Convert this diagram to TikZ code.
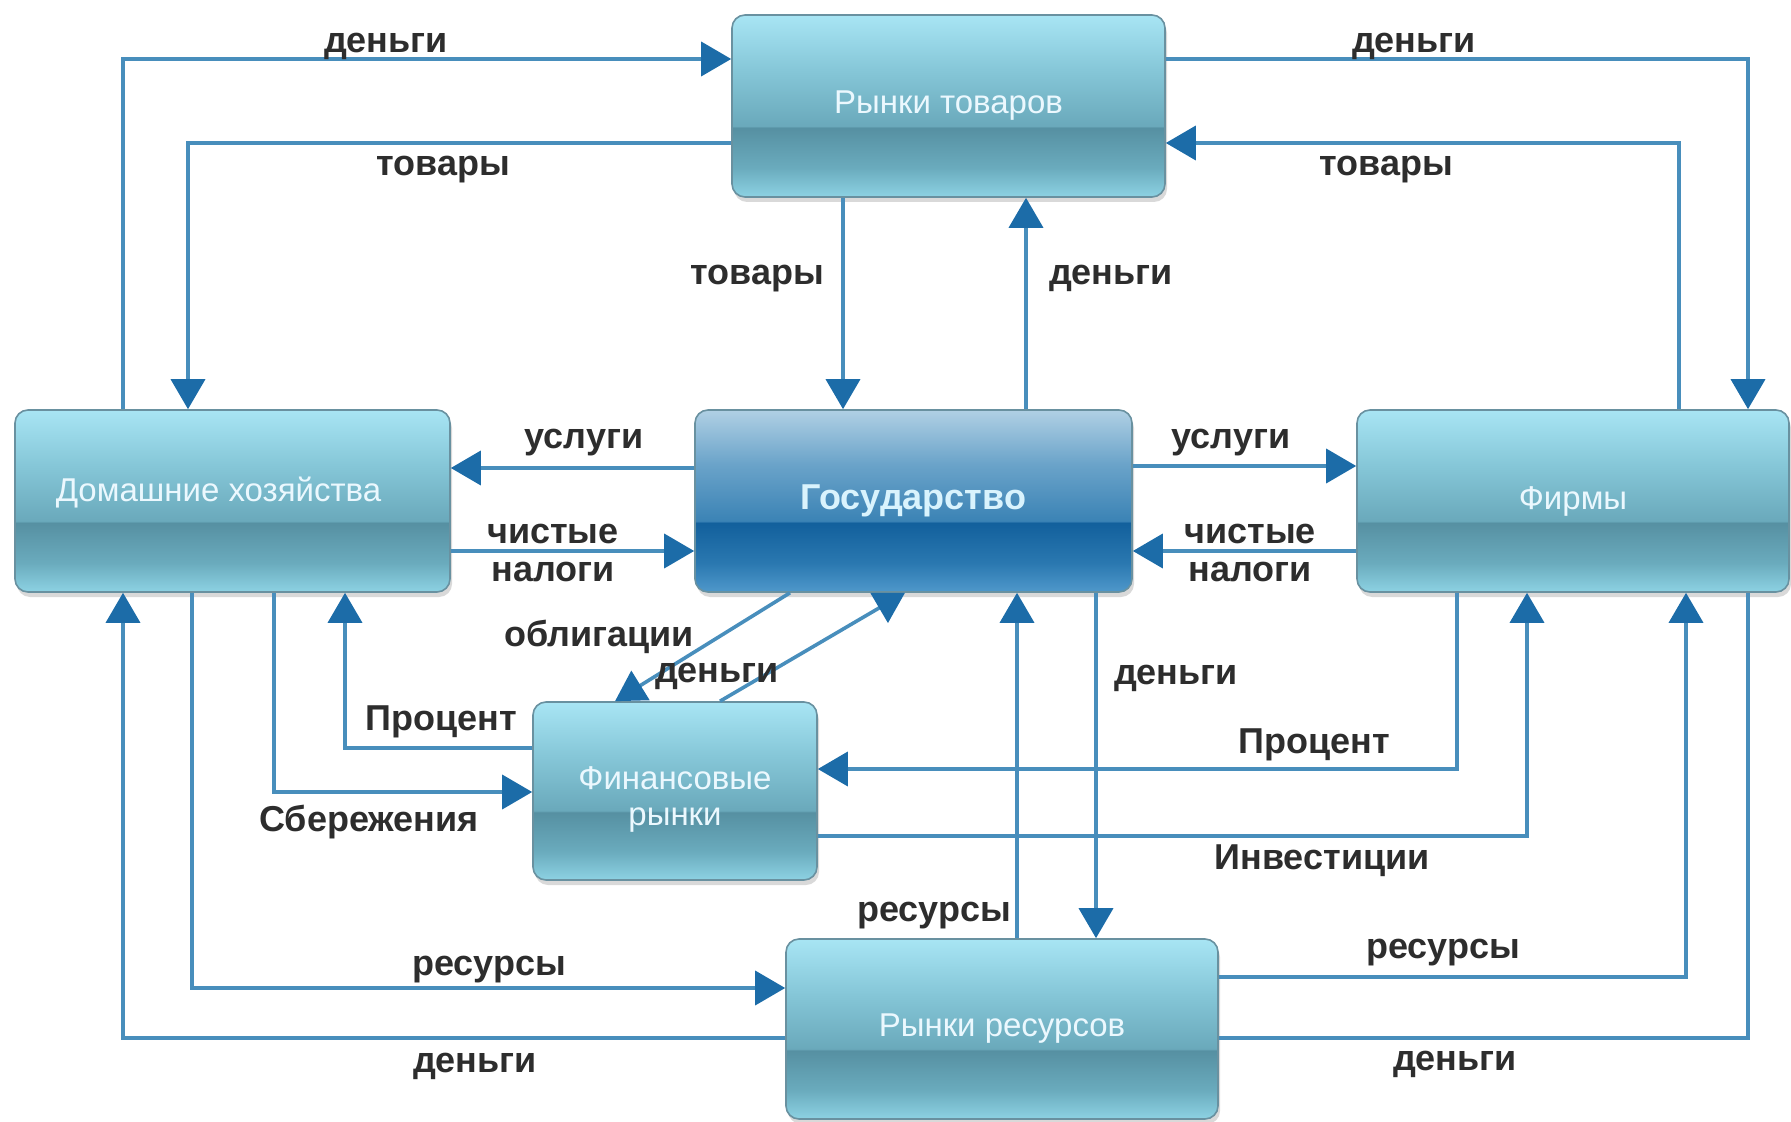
\documentclass[tikz,border=0pt]{standalone}
\usepackage{fontspec}
\setmainfont{Liberation Sans}
\usetikzlibrary{arrows.meta,shadows}
\definecolor{flowblue}{RGB}{72,142,188}
\definecolor{tipblue}{RGB}{28,108,168}
\definecolor{lbltext}{RGB}{45,45,45}
\definecolor{boxedge}{RGB}{105,145,160}
\definecolor{mkt1}{RGB}{141,210,227}
\definecolor{mkt2}{RGB}{106,171,189}
\definecolor{mkt3}{RGB}{86,144,162}
\definecolor{mkt4}{RGB}{106,169,187}
\definecolor{mkt5}{RGB}{134,199,216}
\definecolor{mkt6}{RGB}{168,229,244}
\definecolor{gov1}{RGB}{79,152,203}
\definecolor{gov2}{RGB}{42,120,176}
\definecolor{gov3}{RGB}{18,96,156}
\definecolor{gov4}{RGB}{59,131,181}
\definecolor{gov5}{RGB}{106,163,201}
\definecolor{gov6}{RGB}{176,208,228}
\pgfdeclareverticalshading{mktshade}{100bp}{color(0bp)=(mkt1); color(25bp)=(mkt1); color(33bp)=(mkt2); color(44bp)=(mkt3); color(44.5bp)=(mkt4); color(60bp)=(mkt5); color(75bp)=(mkt6); color(100bp)=(mkt6)}
\pgfdeclareverticalshading{govshade}{100bp}{color(0bp)=(gov1); color(25bp)=(gov1); color(33bp)=(gov2); color(44bp)=(gov3); color(44.5bp)=(gov4); color(60bp)=(gov5); color(75bp)=(gov6); color(100bp)=(gov6)}
\tikzset{
>={Triangle[width=17pt,length=15pt,color=tipblue]},
	mktbox/.style={
		rectangle,
		rounded corners=6.5pt,
		draw=boxedge, line width=0.8pt,
		shading=mktshade,
		drop shadow={shadow xshift=1pt, shadow yshift=-2.5pt, opacity=0.3},
		text=white!92!cyan,
		font=\fontsize{16.5}{18}\selectfont,
		inner sep=0pt,
		align=center},
	govbox/.style={
		mktbox,
		shading=govshade,
		text=white!85!cyan,
		font=\bfseries\fontsize{18}{20}\selectfont},
	link/.style={draw=flowblue, line width=1.8pt},
	flow/.style={link, ->},
	lbl/.style={
		text=lbltext,
		font=\bfseries\fontsize{18}{19}\selectfont,
		inner sep=0pt,
		yshift=-3.2pt,
		align=center}
}
\begin{document}
\begin{tikzpicture}[x=0.5pt, y=-0.5pt]
\useasboundingbox (0,0) rectangle (1791,1122);
\node[mktbox, minimum width=216.5pt, minimum height=91pt] (rt) at (948.5,106) {Рынки товаров};
\node[govbox, minimum width=218.5pt, minimum height=91pt] (gov) at (913.5,501) {Государство};
\node[mktbox, minimum width=217.5pt, minimum height=91pt] (hh) at (232.5,501) {Домашние хозяйства\rule[-12pt]{0pt}{1pt}\kern14pt};
\node[mktbox, minimum width=216pt, minimum height=91pt] (firms) at (1573,501) {Фирмы};
\node[mktbox, minimum width=142pt, minimum height=89pt] (fin) at (675,791) {\rule{0pt}{20pt}Финансовые\\рынки};
\node[mktbox, minimum width=216pt, minimum height=90pt] (rr) at (1002,1029) {Рынки ресурсов};
\draw[flow] (hh.north -| 123,0) |- (rt.west |- 0,59);
\draw[flow] (rt.west |- 0,143) -| (hh.north -| 188,0);
\draw[flow] (rt.east |- 0,59) -| (firms.north -| 1748,0);
\draw[flow] (firms.north -| 1679,0) |- (rt.east |- 0,143);
\draw[flow] (rt.south -| 843,0) -- (gov.north -| 843,0);
\draw[flow] (gov.north -| 1026,0) -- (rt.south -| 1026,0);
\draw[flow] (gov.west |- 0,468) -- (hh.east |- 0,468);
\draw[flow] (hh.east |- 0,551) -- (gov.west |- 0,551);
\draw[flow] (gov.east |- 0,466) -- (firms.west |- 0,466);
\draw[flow] (firms.west |- 0,551) -- (gov.east |- 0,551);
\draw[flow] (gov.south -| 790,0) -- (fin.north -| 615,0);
\draw[flow] (fin.north -| 720,0) -- (gov.south -| 905,0);
\draw[flow] (fin.west |- 0,748) -| (hh.south -| 345,0);
\draw[flow] (hh.south -| 274,0) |- (fin.west |- 0,792);
\draw[flow] (firms.south -| 1457,0) |- (fin.east |- 0,769);
\draw[flow] (fin.east |- 0,836) -| (firms.south -| 1527,0);
\draw[flow] (gov.south -| 1096,0) -- (rr.north -| 1096,0);
\draw[flow] (rr.north -| 1017,0) -- (gov.south -| 1017,0);
\draw[flow] (hh.south -| 192,0) |- (rr.west |- 0,988);
\draw[flow] (rr.west |- 0,1038) -| (hh.south -| 123,0);
\draw[flow] (rr.east |- 0,977) -| (firms.south -| 1686,0);
\draw[link] (firms.south -| 1748,0) |- (rr.east |- 0,1038);
\node[lbl] (l1) at (386,40) {деньги};
\node[lbl] (l2) at (443,163) {товары};
\node[lbl] (l3) at (1414,40) {деньги};
\node[lbl] (l4) at (1386,163) {товары};
\node[lbl] (l5) at (757,272) {товары};
\node[lbl] (l6) at (1111,272) {деньги};
\node[lbl] (l7) at (584,436) {услуги};
\node[lbl] (l8) at (553,547) {чистые\\налоги};
\node[lbl] (l9) at (1231,436) {услуги};
\node[lbl] (l10) at (1250,547) {чистые\\налоги};
\node[lbl] (l11) at (599,630) {облигации};
\node[lbl] (l12) at (717,670) {деньги};
\node[lbl] (l13) at (441,715) {Процент};
\node[lbl] (l14) at (369,816) {Сбережения};
\node[lbl] (l15) at (1314,738) {Процент};
\node[lbl] (l16) at (1322,854) {Инвестиции};
\node[lbl] (l17) at (1176,672) {деньги};
\node[lbl] (l18) at (934,909) {ресурсы};
\node[lbl] (l19) at (489,963) {ресурсы};
\node[lbl] (l20) at (475,1060) {деньги};
\node[lbl] (l21) at (1443,946) {ресурсы};
\node[lbl] (l22) at (1455,1058) {деньги};
\end{tikzpicture}
\end{document}
